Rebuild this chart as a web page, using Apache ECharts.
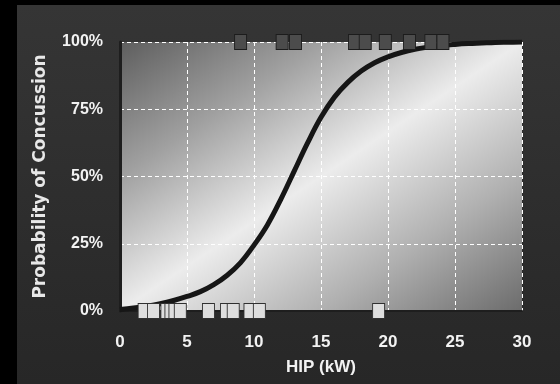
<!DOCTYPE html>
<html>
<head>
<meta charset="utf-8">
<script src="https://cdn.jsdelivr.net/npm/echarts@6/dist/echarts.min.js"></script>
<style>
    html, body {margin: 0; padding: 0; background: #000;}
    #chart {width: 560px; height: 384px;}
</style>
</head>
<body>
<div id="chart"></div>
<script>
// fitted probability curve, every 1 kW
const curveX = [0, 1, 2, 3, 4, 5, 6, 7, 8, 9, 10, 11, 12, 13, 14, 15, 16, 17, 18, 19, 20, 21, 22, 23, 24, 25, 26, 27, 28, 29, 30];
const curveP = [0.6, 1.1, 1.8, 2.7, 3.9, 5.4, 7.2, 9.8, 13.3, 18, 24.5, 32, 41.5, 52, 62.5, 72, 79.5, 85, 89.2, 92.3, 94.5, 96.1, 97.3, 98.1, 98.7, 99.1, 99.4, 99.6, 99.8, 99.9, 100];

// observed impacts: with concussion (100%) and without (0%)
const concussionHIP = [9.0, 12.1, 13.1, 17.5, 18.3, 19.8, 21.6, 23.2, 24.1];
const noConcussionHIP = [1.8, 2.5, 3.5, 3.8, 4.1, 4.5, 6.6, 7.95, 8.45, 9.7, 10.4, 19.3];

const xTicks = {min: 0, max: 30, interval: 5};
const yTicks = {min: 0, max: 100, interval: 25};

const chart = echarts.init(document.getElementById("chart"));

const white = "#f2f2f2";
const labelFont = {color: white, fontFamily: "Liberation Sans", fontWeight: "bold", fontSize: 16};
const xFont = Object.assign({}, labelFont, {fontSize: 17});

// plot area: 120..522 x 42..311, shaded along the diagonal
const plotBg = new echarts.graphic.LinearGradient(197, -9, 445, 362, [
    {offset: 0, color: "#5e5e5e"},
    {offset: 0.25, color: "#a0a0a0"},
    {offset: 0.5, color: "#ececec"},
    {offset: 0.75, color: "#b0b0b0"},
    {offset: 1, color: "#6c6c6c"}
], true);

chart.setOption({
    backgroundColor: "#000",
    animation: false,
    graphic: [
        {
            type: "rect",
            z: -10,
            shape: {x: 17, y: 5, width: 543, height: 379},
            style: {
                fill: new echarts.graphic.LinearGradient(0, 0, 0, 1, [
                    {offset: 0, color: "#353535"},
                    {offset: 1, color: "#272727"}
                ])
            }
        }
    ],
    grid: {
        left: 120,
        right: 38,
        top: 42,
        bottom: 73,
        show: true,
        borderWidth: 0,
        backgroundColor: plotBg
    },
    xAxis: {
        type: "value",
        min: xTicks.min,
        max: xTicks.max,
        interval: xTicks.interval,
        name: "HIP (kW)",
        nameLocation: "middle",
        nameGap: 48,
        nameTextStyle: xFont,
        axisLine: {show: true, lineStyle: {color: "#1e1e1e", width: 2}},
        axisTick: {show: false},
        axisLabel: Object.assign({margin: 23}, xFont),
        splitLine: {lineStyle: {color: "#ffffff", type: [4, 3], width: 1}}
    },
    yAxis: {
        type: "value",
        min: yTicks.min,
        max: yTicks.max,
        interval: yTicks.interval,
        name: "Probability of Concussion",
        nameLocation: "middle",
        nameGap: 71,
        nameTextStyle: {color: "#e8e8e8", fontFamily: "DejaVu Sans", fontWeight: "bold", fontSize: 17},
        axisLine: {show: true, lineStyle: {color: "#1e1e1e", width: 3}},
        axisTick: {show: false},
        axisLabel: Object.assign({margin: 17, formatter: "{value}%"}, labelFont),
        splitLine: {lineStyle: {color: "#ffffff", type: [4, 3], width: 1}}
    },
    series: [
        {
            type: "line",
            data: curveX.map((x, i) => [x, curveP[i]]),
            smooth: 0.4,
            showSymbol: false,
            lineStyle: {color: "#161616", width: 5},
            z: 3
        },
        {
            type: "scatter",
            data: concussionHIP.map(x => [x, 100]),
            symbol: "rect",
            symbolSize: [12, 15],
            clip: false,
            itemStyle: {color: "#4c4c4c", borderColor: "#1c1c1c", borderWidth: 1, opacity: 1},
            z: 5
        },
        {
            type: "scatter",
            data: noConcussionHIP.map(x => [x, 0]),
            symbol: "rect",
            symbolSize: [12, 15],
            clip: false,
            itemStyle: {color: "#dedede", borderColor: "#303030", borderWidth: 1, opacity: 1},
            z: 5
        }
    ]
});
</script>
</body>
</html>
